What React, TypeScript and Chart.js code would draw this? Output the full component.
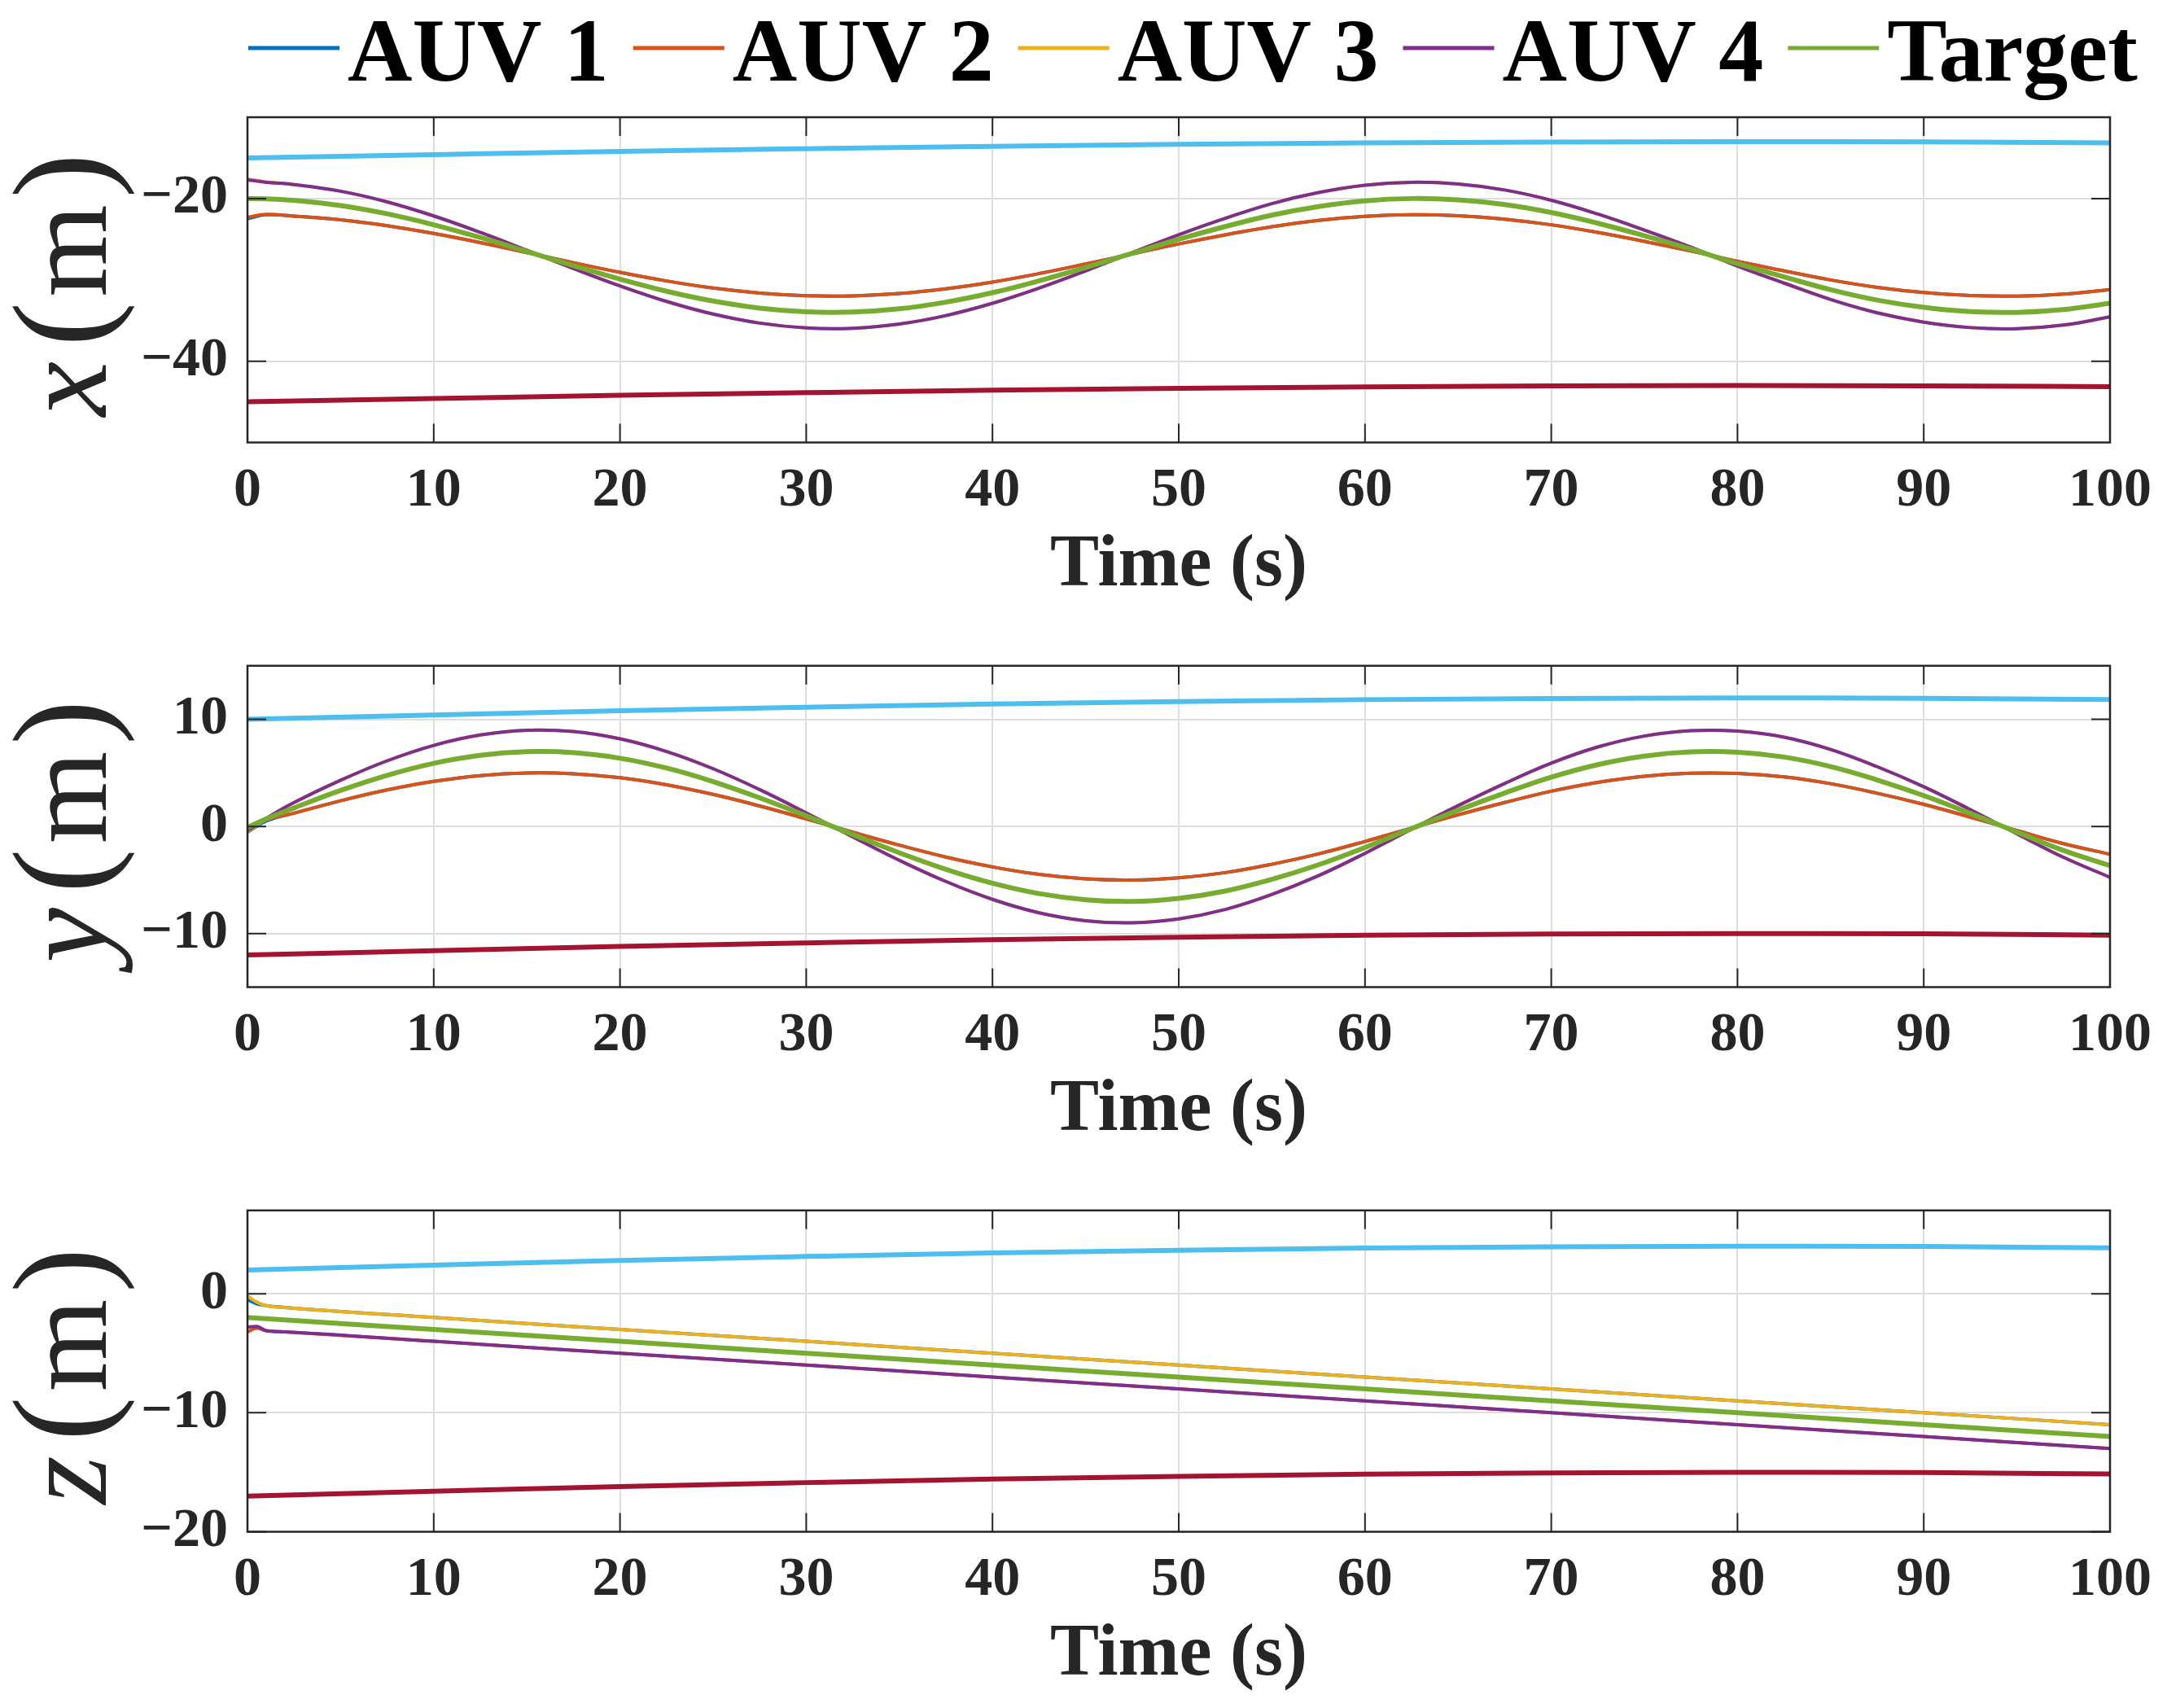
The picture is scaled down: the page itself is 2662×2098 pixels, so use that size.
import { useEffect, useRef } from "react"
import { Chart, registerables } from "chart.js"

Chart.register(...registerables)

// series order matches the plotting order (first = bottom)
const seriesNames = ["AUV 1", "AUV 2", "AUV 3", "AUV 4", "Target", "Upper", "Lower"]
const legendCount = 5

const timeTicks = [0, 10, 20, 30, 40, 50, 60, 70, 80, 90, 100]
const xTicks = [-40, -20]
const yTicks = [-10, 0, 10]
const zTicks = [-20, -10, 0]

const fastTime = [0, 1, 2.5, 5, 7.5, 10, 12.5, 15, 17.5, 20, 22.5, 25, 27.5, 30, 32.5, 35, 37.5, 40, 42.5, 45, 47.5, 50, 52.5, 55, 57.5, 60, 62.5, 65, 67.5, 70, 72.5, 75, 77.5, 80, 82.5, 85, 87.5, 90, 92.5, 95, 97.5, 100]
const slowTime = [0, 10, 20, 30, 40, 50, 60, 70, 80, 90, 100]
const zTime = [0, 0.5, 1, 2, 10, 20, 30, 40, 50, 60, 70, 80, 90, 100]

// x (m)
const targetX = [-20.0, -20.03, -20.22, -20.86, -21.88, -23.22, -24.79, -26.51, -28.25, -29.91, -31.4, -32.61, -33.47, -33.93, -33.96, -33.56, -32.74, -31.58, -30.12, -28.48, -26.74, -25.01, -23.44, -22.04, -20.98, -20.28, -20.0, -20.16, -20.74, -21.72, -23.04, -24.57, -26.21, -28.02, -29.64, -31.21, -32.49, -33.38, -33.9, -34.0, -33.66, -32.87]
const auv2X = [-22.3, -21.95, -22.16, -22.61, -23.34, -24.3, -25.42, -26.65, -27.89, -29.08, -30.14, -31.01, -31.62, -31.95, -31.97, -31.68, -31.1, -30.27, -29.23, -28.05, -26.81, -25.58, -24.46, -23.46, -22.7, -22.2, -22.0, -22.12, -22.53, -23.23, -24.17, -25.27, -26.44, -27.73, -28.89, -30.01, -30.92, -31.56, -31.93, -32.0, -31.75, -31.2]
const auv4X = [-17.7, -18.0, -18.28, -19.1, -20.41, -22.14, -24.16, -26.36, -28.6, -30.74, -32.65, -34.21, -35.32, -35.91, -35.95, -35.43, -34.39, -32.88, -31.01, -28.9, -26.66, -24.45, -22.43, -20.62, -19.27, -18.36, -18.0, -18.21, -18.95, -20.21, -21.91, -23.88, -25.99, -28.31, -30.4, -32.42, -34.06, -35.2, -35.87, -36.0, -35.56, -34.55]
const auv1X = [-22.5, -22.0, ...auv2X.slice(2)]
const auv3X = [-17.6, -17.95, ...auv4X.slice(2)]
const upperX = [-15.0, -14.6, -14.2, -13.87, -13.57, -13.34, -13.16, -13.05, -13.0, -13.03, -13.15]
const lowerX = [-45.0, -44.6, -44.2, -43.87, -43.57, -43.34, -43.16, -43.05, -43.0, -43.03, -43.15]

// y (m)
const targetY = [-0.1, 0.7, 1.73, 3.36, 4.77, 5.89, 6.64, 6.98, 6.89, 6.37, 5.45, 4.19, 2.67, 0.99, -0.76, -2.46, -4.0, -5.3, -6.27, -6.84, -7.0, -6.71, -6.03, -4.94, -3.58, -1.96, -0.2, 1.51, 3.12, 4.6, 5.77, 6.57, 6.96, 6.93, 6.48, 5.59, 4.34, 2.88, 1.22, -0.53, -2.24, -3.65]
const auv2Y = [-0.2, 0.6, 1.24, 2.4, 3.41, 4.21, 4.75, 4.99, 4.92, 4.55, 3.89, 2.99, 1.91, 0.71, -0.54, -1.75, -2.86, -3.78, -4.48, -4.89, -5.0, -4.79, -4.31, -3.53, -2.56, -1.4, -0.15, 1.08, 2.23, 3.29, 4.12, 4.69, 4.97, 4.95, 4.63, 3.99, 3.1, 2.06, 0.87, -0.38, -1.6, -2.6]
const auv4Y = [-0.4, 0.75, 2.23, 4.31, 6.13, 7.57, 8.54, 8.98, 8.86, 8.18, 7.0, 5.39, 3.44, 1.27, -0.97, -3.16, -5.14, -6.81, -8.06, -8.8, -8.99, -8.63, -7.75, -6.35, -4.6, -2.51, -0.26, 1.94, 4.01, 5.91, 7.42, 8.44, 8.94, 8.9, 8.34, 7.19, 5.58, 3.71, 1.57, -0.68, -2.88, -4.75]
const auv1Y = [-0.55, 0.5, ...auv2Y.slice(2)]
const auv3Y = [-0.5, 0.7, ...auv4Y.slice(2)]
const upperY = [10.0, 10.4, 10.8, 11.13, 11.43, 11.66, 11.84, 11.95, 12.0, 11.97, 11.85]
const lowerY = [-12.0, -11.6, -11.2, -10.87, -10.57, -10.34, -10.16, -10.05, -10.0, -10.03, -10.15]

// z (m)
const auv1Z = [-0.5, -0.85, -1.0, -1.15, -2.0, -3.0, -4.0, -5.0, -6.0, -7.0, -8.0, -9.0, -10.0, -11.0]
const auv2Z = [-3.2, -2.9, -3.1, -3.2, -4.0, -5.0, -6.0, -7.0, -8.0, -9.0, -10.0, -11.0, -12.0, -13.0]
const auv3Z = [-0.2, -0.7, -1.0, -1.15, -2.0, -3.0, -4.0, -5.0, -6.0, -7.0, -8.0, -9.0, -10.0, -11.0]
const auv4Z = [-2.8, -2.75, -3.1, -3.2, -4.0, -5.0, -6.0, -7.0, -8.0, -9.0, -10.0, -11.0, -12.0, -13.0]
const targetZ = [-2.0, -2.05, -2.1, -2.2, -3.0, -4.0, -5.0, -6.0, -7.0, -8.0, -9.0, -10.0, -11.0, -12.0]
const upperZ = [2.0, 2.4, 2.8, 3.13, 3.43, 3.66, 3.84, 3.95, 4.0, 3.97, 3.85]
const lowerZ = [-17.0, -16.6, -16.2, -15.87, -15.57, -15.34, -15.16, -15.05, -15.0, -15.03, -15.15]

const colors = ["#0072BD", "#D95319", "#EDB120", "#7E2F8E", "#77AC30", "#4DBEEE", "#A2142F"]
const widths = [4, 4, 4, 4, 6, 6, 6]

const FONT = "'Liberation Serif', 'Times New Roman', serif"
const AXIS = "#262626"

type Series = { time: number[]; values: number[] }

interface PanelProps {
  top: number
  height: number
  padTop: number
  letter: string
  min: number
  max: number
  ticks: number[]
  series: Series[]
  legend?: boolean
}

function Panel({ top, height, padTop, letter, min, max, ticks, series, legend }: PanelProps) {
  const chartRef = useRef<HTMLCanvasElement>(null)

  useEffect(() => {
    if (!chartRef.current) return

    const frame = {
      id: "frame",
      afterDraw(chart: any) {
        const { ctx, chartArea: a, scales } = chart
        ctx.save()
        ctx.strokeStyle = AXIS
        ctx.lineWidth = 2
        ctx.beginPath()
        for (const v of timeTicks) {
          const px = scales.x.getPixelForValue(v)
          ctx.moveTo(px, a.bottom)
          ctx.lineTo(px, a.bottom - 23)
          ctx.moveTo(px, a.top)
          ctx.lineTo(px, a.top + 23)
        }
        for (const v of ticks) {
          const py = scales.y.getPixelForValue(v)
          ctx.moveTo(a.left, py)
          ctx.lineTo(a.left + 23, py)
          ctx.moveTo(a.right, py)
          ctx.lineTo(a.right - 23, py)
        }
        ctx.stroke()
        ctx.lineWidth = 2.5
        ctx.strokeRect(a.left, a.top, a.right - a.left, a.bottom - a.top)
        ctx.restore()
      },
    }

    // y-axis label drawn as "x(m)" with an italic variable
    const yLabel = {
      id: "yLabel",
      afterDraw(chart: any) {
        const { ctx, chartArea: a } = chart
        const parts = [
          { text: letter, font: `italic 152px ${FONT}`, gap: 18 },
          { text: "(", font: `165px ${FONT}`, gap: 6 },
          { text: "m", font: `146px ${FONT}`, gap: 8 },
          { text: ")", font: `165px ${FONT}`, gap: 0 },
        ]
        ctx.save()
        let total = 0
        for (const p of parts) {
          ctx.font = p.font
          total += ctx.measureText(p.text).width + p.gap
        }
        ctx.translate(130, (a.top + a.bottom) / 2)
        ctx.rotate(-Math.PI / 2)
        ctx.fillStyle = AXIS
        ctx.textBaseline = "alphabetic"
        let x = -6 - total / 2
        for (const p of parts) {
          ctx.font = p.font
          ctx.fillText(p.text, x, 0)
          x += ctx.measureText(p.text).width + p.gap
        }
        ctx.restore()
      },
    }

    const topLegend = {
      id: "topLegend",
      afterDraw(chart: any) {
        if (!legend) return
        const { ctx } = chart
        ctx.save()
        ctx.font = `bold 110px ${FONT}`
        ctx.textBaseline = "alphabetic"
        let x = 305
        for (let i = 0; i < legendCount; i++) {
          ctx.strokeStyle = colors[i]
          ctx.lineWidth = 5
          ctx.beginPath()
          ctx.moveTo(x, 59)
          ctx.lineTo(x + 112, 59)
          ctx.stroke()
          ctx.fillStyle = "#000000"
          ctx.fillText(seriesNames[i], x + 122, 99)
          x += 122 + ctx.measureText(seriesNames[i]).width + 30
        }
        ctx.restore()
      },
    }

    const chart = new Chart(chartRef.current, {
      type: "line",
      data: {
        datasets: series.map((s, i) => ({
          label: seriesNames[i],
          data: s.time.map((t, k) => ({ x: t, y: s.values[k] })),
          borderColor: colors[i],
          backgroundColor: colors[i],
          borderWidth: widths[i],
          pointRadius: 0,
          fill: false,
          tension: s.time === fastTime ? 0.4 : 0,
          cubicInterpolationMode: s.time === fastTime ? ("default" as const) : ("monotone" as const),
          order: -i,
        })),
      },
      options: {
        animation: false,
        responsive: false,
        events: [],
        layout: { padding: { top: padTop, right: 69, bottom: 0, left: 0 } },
        plugins: {
          legend: { display: false },
          tooltip: { enabled: false },
        },
        scales: {
          x: {
            type: "linear",
            min: 0,
            max: 100,
            afterBuildTicks: (scale: any) => {
              scale.ticks = timeTicks.map((v) => ({ value: v }))
            },
            afterFit: (scale: any) => {
              scale.height = 209.5
            },
            grid: { color: "#dedede", lineWidth: 2, drawTicks: false },
            border: { display: false },
            ticks: {
              padding: 19,
              color: AXIS,
              autoSkip: false,
              maxRotation: 0,
              font: { family: FONT, size: 68, weight: "bold" },
            },
            title: {
              display: true,
              text: "Time (s)",
              color: AXIS,
              font: { family: FONT, size: 90, weight: "bold" },
              padding: { top: 0, bottom: 3 },
            },
          },
          y: {
            type: "linear",
            min,
            max,
            afterBuildTicks: (scale: any) => {
              scale.ticks = ticks.map((v) => ({ value: v }))
            },
            afterFit: (scale: any) => {
              scale.width = 304
            },
            grid: { color: "#dedede", lineWidth: 2, drawTicks: false },
            border: { display: false },
            ticks: {
              padding: 24,
              color: AXIS,
              font: { family: FONT, size: 68, weight: "bold" },
              callback: (value) => String(value).replace("-", "\u2212"),
            },
          },
        },
      },
      plugins: [frame, yLabel, topLegend],
    })

    return () => {
      chart.destroy()
    }
  }, [])

  return (
    <canvas
      ref={chartRef}
      width={2662}
      height={height}
      style={{ position: "absolute", left: 0, top, width: 2662, height }}
    ></canvas>
  )
}

export default function App() {
  return (
    <div style={{ position: "absolute", left: 0, top: 0, width: 2662, height: 2098, background: "#ffffff" }}>
      <Panel
        top={0}
        height={753}
        padTop={144}
        letter="x"
        min={-50}
        max={-10}
        ticks={xTicks}
        legend
        series={[
          { time: fastTime, values: auv1X },
          { time: fastTime, values: auv2X },
          { time: fastTime, values: auv3X },
          { time: fastTime, values: auv4X },
          { time: fastTime, values: targetX },
          { time: slowTime, values: upperX },
          { time: slowTime, values: lowerX },
        ]}
      />
      <Panel
        top={753}
        height={669}
        padTop={60}
        letter="y"
        min={-15}
        max={15}
        ticks={yTicks}
        series={[
          { time: fastTime, values: auv1Y },
          { time: fastTime, values: auv2Y },
          { time: fastTime, values: auv3Y },
          { time: fastTime, values: auv4Y },
          { time: fastTime, values: targetY },
          { time: slowTime, values: upperY },
          { time: slowTime, values: lowerY },
        ]}
      />
      <Panel
        top={1422}
        height={669}
        padTop={59.5}
        letter="z"
        min={-20}
        max={7}
        ticks={zTicks}
        series={[
          { time: zTime, values: auv1Z },
          { time: zTime, values: auv2Z },
          { time: zTime, values: auv3Z },
          { time: zTime, values: auv4Z },
          { time: zTime, values: targetZ },
          { time: slowTime, values: upperZ },
          { time: slowTime, values: lowerZ },
        ]}
      />
    </div>
  )
}
